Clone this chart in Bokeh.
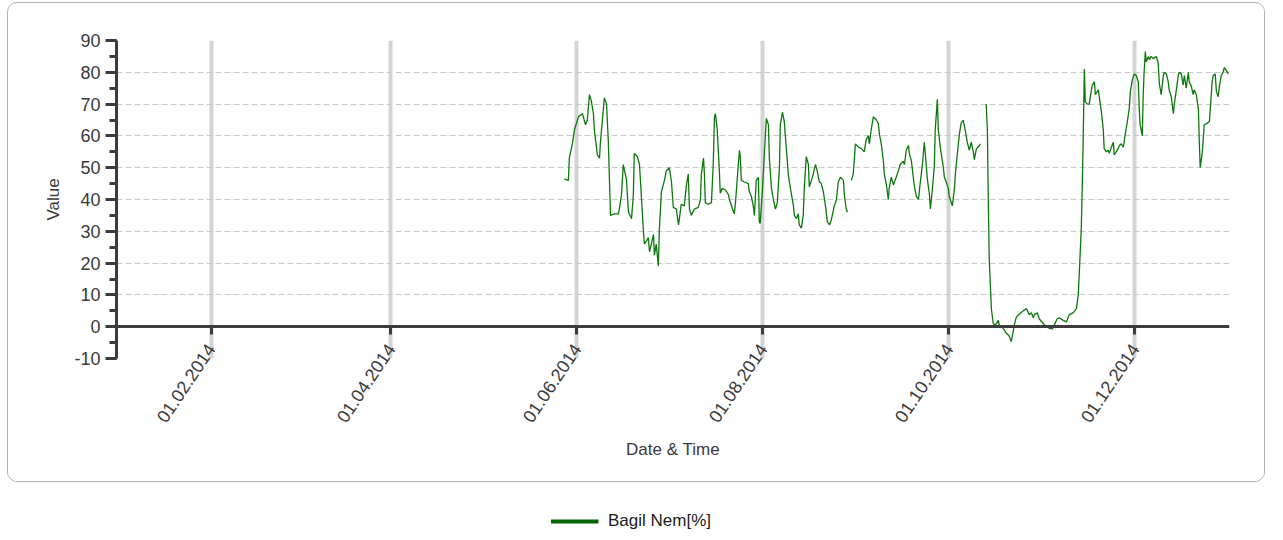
import pandas as pd
from bokeh.plotting import figure
from bokeh.layouts import column
from bokeh.models import (DatetimeAxis, DatetimeTickFormatter, MonthsTicker, SingleIntervalTicker,
                          Range1d, LinearAxis, Grid, ColumnDataSource, Legend, LegendItem,
                          PrintfTickFormatter)
from bokeh.embed import file_html
from bokeh.resources import INLINE

NAN = float("nan")

SERIES_NAME = "Bagil Nem[%]"
X_TITLE = "Date & Time"
Y_TITLE = "Value"
X_START = "2014-01-01"
X_END = "2015-01-01"
Y_MIN, Y_MAX = -10, 90
TICK_MONTHS = [1, 3, 5, 7, 9, 11]   # Feb, Apr, Jun, Aug, Oct, Dec (0-based months)
TICK_FORMAT = "%d.%m.%Y"

# days elapsed since 2014-01-01 00:00
day = [
    146.9, 148.2, 148.5, 149.5, 150.2, 151.5, 152.8, 153.8, 154.4, 155.1,
    155.7, 156.4, 156.7, 157.7, 158.4, 158.7, 159.3, 160.0, 160.7, 161.3,
    162.0, 163.3, 164.6, 164.9, 165.6, 166.2, 166.6, 167.2, 167.9, 168.9,
    169.5, 169.8, 170.8, 171.5, 172.1, 172.8, 173.1, 173.8, 174.4, 174.8,
    175.4, 176.1, 176.4, 177.0, 177.7, 178.0, 178.7, 179.7, 180.3, 181.3,
    182.0, 182.6, 183.6, 184.3, 184.6, 185.2, 186.2, 186.9, 187.5, 187.9,
    188.5, 189.5, 190.8, 191.5, 191.8, 192.5, 192.8, 193.1, 194.1, 195.1,
    195.7, 196.1, 196.4, 197.0, 197.7, 198.0, 198.7, 199.7, 200.7, 201.0,
    202.0, 202.6, 203.0, 203.6, 204.3, 204.6, 204.9, 205.9, 207.2, 207.5,
    208.2, 208.9, 209.2, 209.8, 210.5, 210.8, 211.1, 211.8, 212.5, 213.1,
    213.8, 214.1, 214.8, 215.4, 216.1, 216.7, 217.4, 217.7, 218.4, 219.0,
    219.3, 220.0, 220.3, 221.0, 222.0, 222.3, 223.0, 223.6, 223.9, 224.6,
    225.2, 225.6, 226.2, 226.9, 227.2, 227.9, 228.5, 229.2, 229.8, 230.5,
    231.1, 231.8, 232.5, 233.1, 233.8, 234.4, 235.4, 236.1, 236.7, 237.4,
    238.4, 238.7, 239.3, 239.7,
    240.3,
    241.0, 241.6, 242.0, 242.3, 243.3, 244.3, 245.2, 245.9, 246.6, 246.9,
    247.5, 248.2, 249.2, 249.8, 250.2, 250.8, 251.5, 251.8, 252.5, 253.1,
    253.4, 254.1, 254.8, 255.1, 255.7, 256.4, 257.0, 258.0, 258.4, 259.0,
    259.7, 260.0, 260.7, 261.3, 261.6, 262.3, 263.0, 263.6, 264.3, 264.9,
    265.2, 265.9, 266.6, 266.9, 267.5, 268.2, 268.5, 269.2, 269.5, 270.2,
    271.1, 271.5, 272.1, 272.8, 273.1, 274.1, 274.8, 275.1, 275.7, 276.4,
    277.0, 277.7, 278.4, 279.0, 279.7, 280.3, 281.0, 281.3, 282.0, 282.6,
    283.3,
    284.2,
    285.2, 285.6, 285.9, 286.2, 286.9, 287.5, 288.2, 289.2, 289.5, 290.8,
    291.8, 292.8, 293.4, 294.1, 294.4, 295.1, 296.1, 297.4, 298.4, 299.3,
    300.0, 300.7, 301.0, 302.0, 302.6, 303.9, 304.9, 305.9, 306.9, 307.5,
    308.5, 309.2, 310.5, 311.5, 312.5, 313.8, 314.8, 315.4, 315.7, 316.4,
    316.7, 317.0, 317.4, 317.7, 318.4, 319.0, 320.0, 320.7, 321.0, 322.0,
    322.3, 323.0, 323.6, 323.9, 324.6, 325.2, 325.6, 326.2, 326.9, 327.2,
    328.2, 328.9, 329.5, 330.2, 330.8, 331.5, 332.1, 332.5, 333.1, 333.8,
    334.4, 335.1, 335.4, 335.7, 336.4, 336.7, 337.0, 337.4, 337.7, 338.4,
    338.7, 339.3, 340.0, 341.0, 341.6, 342.0, 342.6, 343.3, 343.6, 344.3,
    344.9, 345.2, 345.9, 346.6, 346.9, 347.5, 348.2, 348.5, 349.2, 349.8,
    350.2, 350.8, 351.5, 351.8, 352.5, 353.1, 353.4, 354.1, 354.8, 355.1,
    355.4, 356.1, 356.4, 356.7, 357.7, 358.4, 358.7, 359.3, 359.7, 360.3,
    360.7, 361.3, 361.6, 362.3, 362.9, 363.3, 363.9, 364.6,
]

humidity = [
    46.5, 46.0, 53.0, 57.5, 62.0, 66.0, 67.0, 63.5, 65.0, 73.0,
    71.0, 67.0, 62.0, 54.0, 53.0, 58.0, 64.5, 72.0, 70.0, 58.0,
    35.0, 35.5, 35.5, 37.0, 41.5, 51.0, 49.0, 46.5, 36.0, 34.0,
    41.5, 54.5, 53.5, 51.0, 41.5, 30.0, 26.0, 27.0, 28.0, 23.5,
    26.0, 29.0, 22.5, 26.0, 19.0, 30.0, 42.5, 46.0, 49.0, 50.0,
    45.5, 37.5, 37.0, 32.0, 34.0, 38.5, 38.0, 44.5, 48.0, 37.0,
    35.0, 37.0, 37.5, 40.0, 48.0, 53.0, 48.0, 39.0, 38.5, 39.0,
    51.0, 66.0, 67.0, 62.0, 49.0, 42.0, 43.5, 43.0, 41.5, 40.0,
    37.0, 35.5, 39.0, 47.0, 55.5, 53.0, 46.0, 45.5, 45.0, 42.5,
    41.0, 37.5, 35.0, 46.0, 47.0, 33.0, 32.5, 42.5, 55.0, 65.5,
    63.5, 53.0, 43.5, 40.0, 37.0, 39.0, 50.0, 63.5, 67.5, 64.5,
    60.5, 52.0, 48.0, 43.5, 38.0, 35.0, 34.0, 35.5, 32.0, 31.0,
    35.0, 44.5, 53.5, 51.0, 44.0, 46.0, 48.0, 51.0, 49.0, 45.5,
    45.0, 42.5, 38.0, 33.0, 32.0, 33.5, 38.0, 40.0, 45.5, 47.0,
    46.0, 41.5, 37.0, 36.0,
    NAN,
    46.0, 48.0, 53.0, 57.5, 56.5, 56.0, 55.0, 59.0, 60.0, 57.5,
    62.0, 66.0, 65.0, 64.0, 60.5, 57.5, 52.0, 48.0, 44.5, 40.0,
    43.5, 47.0, 44.5, 45.5, 47.0, 49.0, 51.0, 52.0, 51.0, 55.5,
    57.0, 54.5, 52.0, 47.0, 44.5, 41.0, 40.0, 45.5, 51.0, 58.0,
    55.0, 46.5, 41.5, 37.0, 42.5, 50.5, 62.0, 71.5, 62.0, 56.0,
    50.5, 47.0, 45.5, 43.5, 41.0, 38.0, 43.5, 48.0, 54.0, 60.5,
    64.0, 65.0, 61.5, 58.0, 55.5, 58.0, 55.0, 52.5, 56.0, 56.5,
    57.5,
    NAN,
    70.0, 62.0, 40.0, 21.5, 5.7, 1.0, 0.5, 2.0, 0.5, -0.5,
    -2.0, -3.0, -4.7, -1.5, 0.5, 3.0, 4.0, 5.0, 5.7, 3.8,
    4.4, 2.8, 3.8, 4.4, 2.5, 1.0, 0.0, -0.5, -0.7, 0.5,
    2.5, 2.8, 2.0, 1.5, 3.8, 4.4, 5.7, 10.0, 16.0, 31.0,
    43.5, 58.0, 81.0, 70.7, 70.0, 70.0, 76.0, 77.0, 73.0, 74.5,
    72.3, 67.5, 62.0, 56.0, 55.0, 55.5, 54.5, 56.3, 58.0, 54.0,
    55.5, 57.0, 57.5, 56.5, 60.5, 64.5, 68.5, 74.0, 77.5, 79.5,
    79.0, 77.0, 68.5, 63.5, 60.0, 73.0, 80.0, 86.5, 83.3, 85.0,
    84.0, 85.0, 84.3, 85.0, 83.0, 76.4, 73.0, 79.0, 80.0, 79.5,
    77.0, 74.5, 72.3, 67.0, 70.0, 74.0, 79.0, 80.0, 79.5, 76.0,
    79.0, 75.0, 80.0, 77.0, 75.5, 73.0, 74.5, 73.0, 68.5, 58.0,
    50.0, 55.0, 59.0, 63.5, 64.0, 64.5, 68.5, 77.0, 79.0, 79.5,
    74.0, 72.3, 75.0, 79.0, 80.0, 81.5, 80.7, 79.5,
]

times = pd.Timestamp(X_START) + pd.to_timedelta(day, unit="D")
source = ColumnDataSource(data=dict(t=times, v=humidity))

FONT = "Liberation Sans"
TXT = "#3a3a3a"
AX = "#3c3c3c"

p = figure(width=1258, height=480,
           x_range=Range1d(pd.Timestamp(X_START), pd.Timestamp(X_END)),
           y_range=Range1d(Y_MIN, Y_MAX),
           x_axis_type=None, y_axis_type=None,
           output_backend="svg", toolbar_location=None,
           min_border_left=108, min_border_right=37, min_border_top=37, min_border_bottom=125,
           outline_line_color=None,
           styles={"border": "1px solid #b0b0b0", "border-radius": "10px", "overflow": "hidden"})

yticker = SingleIntervalTicker(interval=10, num_minor_ticks=2)
yaxis = LinearAxis(ticker=yticker, formatter=PrintfTickFormatter(format="%d"),
                   axis_label=Y_TITLE,
                   axis_line_color=AX, axis_line_width=3,
                   major_tick_line_color=AX, major_tick_line_width=3,
                   major_tick_out=11, major_tick_in=0,
                   minor_tick_line_color=AX, minor_tick_line_width=3,
                   minor_tick_out=7, minor_tick_in=0,
                   major_label_standoff=5,
                   major_label_text_font=FONT, major_label_text_font_size="18px",
                   major_label_text_color=TXT,
                   axis_label_text_font=FONT, axis_label_text_font_size="17px",
                   axis_label_text_font_style="normal", axis_label_text_color=TXT,
                   axis_label_standoff=8)
p.add_layout(yaxis, "left")

xticker = MonthsTicker(months=TICK_MONTHS)
xfmt = DatetimeTickFormatter(days=TICK_FORMAT, months=TICK_FORMAT, years=TICK_FORMAT,
                             strip_leading_zeros=False)

# zero line with downward ticks (no labels)
zero_axis = DatetimeAxis(ticker=xticker, formatter=xfmt, fixed_location=0,
                         axis_line_color=AX, axis_line_width=3,
                         major_tick_line_color=AX, major_tick_line_width=3,
                         major_tick_out=0, major_tick_in=8,
                         minor_tick_line_color=None,
                         major_label_text_color=None, major_label_text_font_size="0px")
p.add_layout(zero_axis, "above")

# date labels + title below the plot
xaxis = DatetimeAxis(ticker=xticker, formatter=xfmt,
                     axis_label=X_TITLE,
                     axis_line_color=None,
                     major_tick_line_color=None, major_tick_out=0, major_tick_in=0,
                     minor_tick_line_color=None,
                     major_label_orientation=0.98, major_label_standoff=-13,
                     major_label_text_font=FONT, major_label_text_font_size="18px",
                     major_label_text_color=TXT,
                     axis_label_text_font=FONT, axis_label_text_font_size="17px",
                     axis_label_text_font_style="normal", axis_label_text_color=TXT,
                     axis_label_standoff=9)
p.add_layout(xaxis, "below")

p.add_layout(Grid(dimension=0, ticker=xticker, grid_line_color="#d4d4d4", grid_line_width=4))
p.add_layout(Grid(dimension=1, ticker=yticker, grid_line_color="#c8c8c8", grid_line_width=1,
                  grid_line_dash="6 3"))

p.line("t", "v", source=source, line_color="#0c780c", line_width=1.3)

# legend strip below the bordered chart (its frame is aligned with the chart's frame)
leg = figure(width=1258, height=56, x_range=Range1d(0, 1), y_range=Range1d(0, 1),
             x_axis_type=None, y_axis_type=None,
             output_backend="svg", toolbar_location=None,
             outline_line_color=None, min_border=0)
r = leg.line("t", "v", source=source, line_color="#006400", line_width=4)
legend = Legend(items=[LegendItem(label=SERIES_NAME, renderers=[r])],
                location="top_center", margin=29, padding=5,
                border_line_color=None, background_fill_alpha=0,
                glyph_width=48, glyph_height=20, label_standoff=10, label_width=185,
                label_text_font=FONT, label_text_font_size="17px", label_text_color="#202020")
leg.add_layout(legend, "center")

layout = column(p, leg, spacing=0, styles={"margin-top": "2px", "margin-left": "7px"})

open("out.html", "w").write(file_html(layout, INLINE))
